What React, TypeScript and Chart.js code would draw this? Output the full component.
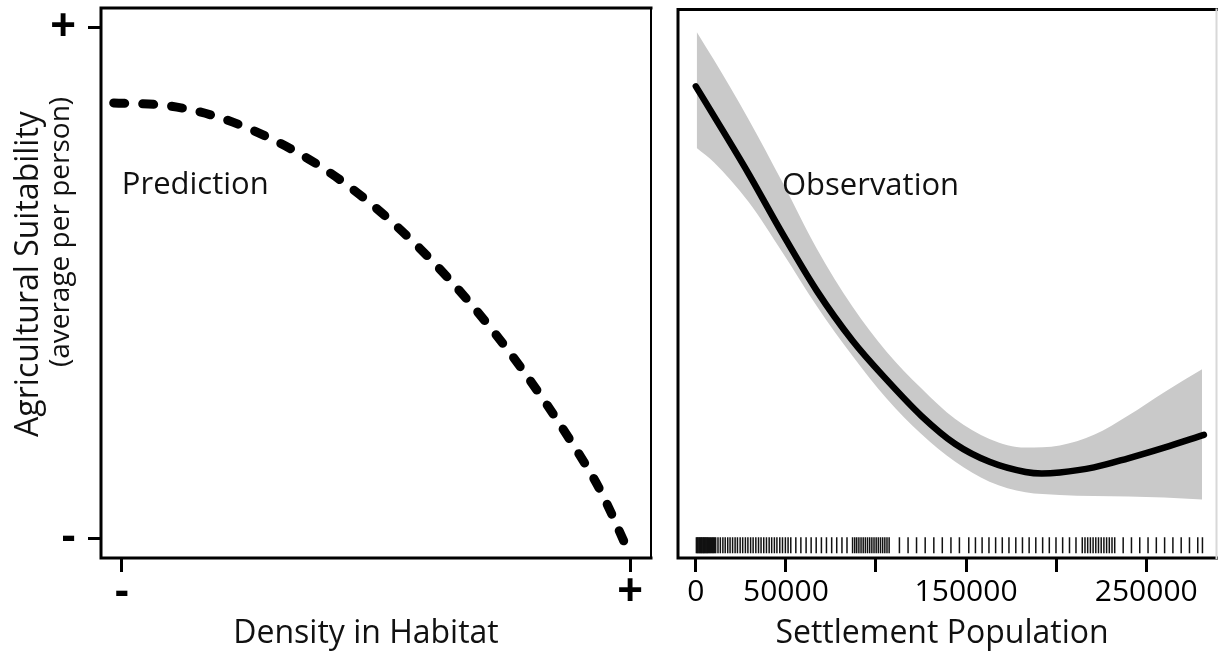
import React, { useEffect, useRef } from 'react';
import { Chart, registerables } from 'chart.js';
Chart.register(...registerables);

// ---------- Left panel: predicted relationship (normalized: 0 = "-", 1 = "+") ----------
const predictionX = [-0.016, 0.094, 0.193, 0.291, 0.39, 0.488, 0.587, 0.685, 0.783, 0.882, 0.941, 0.994];
const predictionY = [0.853, 0.847, 0.824, 0.784, 0.729, 0.657, 0.567, 0.461, 0.337, 0.192, 0.094, -0.02];
const leftTickValues = [0, 1];
const leftTickLabels = ['-', '+'];

// ---------- Right panel: observed relationship ----------
const populationX = [0, 10000, 29000, 48000, 67000, 87000, 106000, 125000, 144000, 163000, 183000, 192000, 202000, 221000, 240000, 260000, 282000];
const observedY = [0.888, 0.83, 0.718, 0.599, 0.487, 0.388, 0.311, 0.241, 0.185, 0.15, 0.13, 0.127, 0.129, 0.139, 0.157, 0.178, 0.203];
const bandX = [500, 10000, 29000, 48000, 67000, 87000, 106000, 125000, 144000, 163000, 183000, 202000, 221000, 240000, 260000, 281000];
const bandUpper = [0.995, 0.94, 0.825, 0.7, 0.57, 0.455, 0.366, 0.295, 0.234, 0.195, 0.178, 0.182, 0.203, 0.241, 0.287, 0.332];
const bandLower = [0.767, 0.739, 0.662, 0.562, 0.457, 0.358, 0.274, 0.205, 0.15, 0.111, 0.09, 0.085, 0.083, 0.082, 0.08, 0.076];
const rugPopulation = [
  300, 800, 1200, 1700, 2100, 2600, 3000, 3400, 3900, 4300, 4700, 5200, 5600, 6100, 6500, 7000, 7600, 8100, 8700, 9300, 9800, 10400, 11000,
  12300, 13600, 15000, 16300, 17700, 19000, 20400, 21800, 23100, 24600, 26000, 27500, 28900, 30400, 31800, 33300, 34800, 36200, 37700, 39200,
  40700, 42100, 43600, 45000, 46600, 48100, 49700, 51200, 52700,
  55500, 58300, 61200, 64000, 66800, 69700, 72500, 75400, 78200, 81100, 83900,
  87000, 88200, 89300, 90500, 91700, 92900, 94100, 95300, 96500, 97700, 98900, 100100, 101300, 102500, 103700, 104900, 106100, 107300,
  113000, 117800, 122500, 127300, 132100, 136800, 141600, 146300,
  151500, 155200, 158900, 162700, 166400, 170100, 173800, 177600, 181300, 185000, 188700, 192500, 196200, 199900, 203600, 207400, 211000,
  214500, 216000, 217500, 219000, 220500, 222000, 223500, 225000, 226500, 228000, 229500, 231000, 232500,
  237200, 241800, 246400, 251000, 255600, 260200, 264800, 269400, 274000, 278600, 281200,
];
const populationTicks = [0, 50000, 100000, 150000, 200000, 250000];
const populationTickLabels = ['0', '50000', '', '150000', '', '250000'];

const rugLevel = -0.0137;
const yMin = -0.039;
const yMax = 1.039;
const SANS = "'Open Sans', sans-serif";

function noScalePadding(s: any) {
  s.paddingTop = 0;
  s.paddingBottom = 0;
  s.paddingLeft = 0;
  s.paddingRight = 0;
}

function framePlugin(rightColor: string, texts: (chart: any, ctx: CanvasRenderingContext2D) => void) {
  return {
    id: 'frameAndText',
    afterDraw(chart: any) {
      const { ctx, chartArea: a } = chart;
      ctx.save();
      ctx.lineWidth = 3;
      ctx.strokeStyle = '#000';
      ctx.lineCap = 'square';
      ctx.beginPath();
      ctx.moveTo(a.right, a.top);
      ctx.lineTo(a.left, a.top);
      ctx.lineTo(a.left, a.bottom);
      ctx.lineTo(a.right, a.bottom);
      ctx.stroke();
      ctx.strokeStyle = rightColor;
      ctx.lineWidth = 2;
      ctx.beginPath();
      ctx.moveTo(a.right, a.top);
      ctx.lineTo(a.right, a.bottom);
      ctx.stroke();
      ctx.restore();
      ctx.save();
      ctx.fillStyle = '#111';
      texts(chart, ctx);
      ctx.restore();
    },
  };
}

function LeftPanel() {
  const ref = useRef<HTMLCanvasElement>(null);
  useEffect(() => {
    const chart = new Chart(ref.current as HTMLCanvasElement, {
      type: 'line',
      data: {
        datasets: [
          {
            data: predictionX.map((x, i) => ({ x, y: predictionY[i] })),
            borderColor: '#000',
            borderWidth: 9,
            borderDash: [11, 18],
            borderCapStyle: 'round',
            pointRadius: 0,
            cubicInterpolationMode: 'monotone',
            fill: false,
          } as any,
        ],
      },
      options: {
        animation: false,
        responsive: false,
        events: [],
        layout: { padding: { top: 8, right: 9, left: 0, bottom: 0 } },
        plugins: { legend: { display: false }, tooltip: { enabled: false } },
        scales: {
          x: {
            type: 'linear',
            min: -0.041,
            max: 1.041,
            afterBuildTicks: (s: any) => {
              s.ticks = leftTickValues.map((v) => ({ value: v }));
            },
            afterFit: (s: any) => {
              s.height = 93;
              noScalePadding(s);
            },
            ticks: {
              callback: (_v: any, i: number) => leftTickLabels[i],
              font: { family: "'Liberation Sans', Arial, sans-serif", weight: 'bold', size: 44, lineHeight: 1 },
              color: '#000',
              padding: -1,
              maxRotation: 0,
              autoSkip: false,
            },
            grid: { drawOnChartArea: false, drawTicks: true, tickLength: 14, lineWidth: 3, color: '#000' },
            border: { display: false },
          },
          y: {
            type: 'linear',
            min: yMin,
            max: yMax,
            afterBuildTicks: (s: any) => {
              s.ticks = leftTickValues.map((v) => ({ value: v }));
            },
            afterFit: (s: any) => {
              s.width = 101;
              noScalePadding(s);
            },
            ticks: {
              callback: (_v: any, i: number) => leftTickLabels[i],
              font: { family: "'Liberation Sans', Arial, sans-serif", weight: 'bold', size: 44, lineHeight: 1 },
              color: '#000',
              padding: 12,
              autoSkip: false,
            },
            grid: { drawOnChartArea: false, drawTicks: true, tickLength: 13, lineWidth: 3, color: '#000' },
            border: { display: false },
          },
        },
      } as any,
      plugins: [
        framePlugin('#000', (chart: any, ctx: CanvasRenderingContext2D) => {
          const xs = chart.scales.x;
          const ys = chart.scales.y;
          ctx.font = `31px ${SANS}`;
          ctx.textAlign = 'left';
          ctx.textBaseline = 'middle';
          ctx.fillText('Prediction', xs.getPixelForValue(0.0), ys.getPixelForValue(0.692));
          ctx.font = `32px ${SANS}`;
          ctx.textAlign = 'center';
          ctx.textBaseline = 'alphabetic';
          ctx.fillText('Density in Habitat', 366, 643);
          ctx.save();
          ctx.translate(38, 274);
          ctx.rotate(-Math.PI / 2);
          ctx.font = `32px ${SANS}`;
          ctx.fillText('Agricultural Suitability', 0, 0);
          ctx.restore();
          ctx.save();
          ctx.translate(69, 232);
          ctx.rotate(-Math.PI / 2);
          ctx.font = `28px ${SANS}`;
          ctx.fillText('(average per person)', 0, 0);
          ctx.restore();
        }),
      ],
    });
    return () => chart.destroy();
  }, []);
  return <canvas ref={ref} width={660} height={651} style={{ position: 'absolute', left: 0, top: 0, width: 660, height: 651 }} />;
}

function RightPanel() {
  const ref = useRef<HTMLCanvasElement>(null);
  useEffect(() => {
    const chart = new Chart(ref.current as HTMLCanvasElement, {
      type: 'line',
      data: {
        datasets: [
          {
            data: populationX.map((x, i) => ({ x, y: observedY[i] })),
            borderColor: '#000',
            borderWidth: 6.5,
            borderCapStyle: 'round',
            pointRadius: 0,
            cubicInterpolationMode: 'monotone',
            fill: false,
          },
          {
            data: bandX.map((x, i) => ({ x, y: bandUpper[i] })),
            borderColor: 'rgba(0,0,0,0)',
            borderWidth: 0,
            backgroundColor: '#c9c9c9',
            pointRadius: 0,
            cubicInterpolationMode: 'monotone',
            fill: '+1',
          },
          {
            data: bandX.map((x, i) => ({ x, y: bandLower[i] })),
            borderColor: 'rgba(0,0,0,0)',
            borderWidth: 0,
            pointRadius: 0,
            cubicInterpolationMode: 'monotone',
            fill: false,
          },
          {
            type: 'scatter',
            data: rugPopulation.map((x) => ({ x, y: rugLevel })),
            showLine: false,
            pointStyle: 'line',
            pointRotation: 90,
            pointRadius: 8,
            pointBorderWidth: 1.5,
            pointBorderColor: '#111',
            borderColor: '#111',
          },
        ] as any,
      },
      options: {
        animation: false,
        responsive: false,
        events: [],
        layout: { padding: { top: 8, right: 4, left: 18, bottom: 0 } },
        plugins: { legend: { display: false }, tooltip: { enabled: false } },
        scales: {
          x: {
            type: 'linear',
            min: -9900,
            max: 289000,
            afterBuildTicks: (s: any) => {
              s.ticks = populationTicks.map((v) => ({ value: v }));
            },
            afterFit: (s: any) => {
              s.height = 93;
              noScalePadding(s);
            },
            ticks: {
              callback: (_v: any, i: number) => populationTickLabels[i],
              font: { family: SANS, size: 30, lineHeight: 1 },
              color: '#000',
              padding: 5,
              maxRotation: 0,
              autoSkip: false,
            },
            grid: { drawOnChartArea: false, drawTicks: true, tickLength: 14, lineWidth: 3, color: '#000' },
            border: { display: false },
          },
          y: { type: 'linear', display: false, min: yMin, max: yMax },
        },
      } as any,
      plugins: [
        framePlugin('#d8d8d8', (chart: any, ctx: CanvasRenderingContext2D) => {
          const xs = chart.scales.x;
          const ys = chart.scales.y;
          ctx.font = `31px ${SANS}`;
          ctx.textAlign = 'left';
          ctx.textBaseline = 'middle';
          ctx.fillText('Observation', xs.getPixelForValue(47800), ys.getPixelForValue(0.692));
          ctx.font = `32px ${SANS}`;
          ctx.textAlign = 'center';
          ctx.textBaseline = 'alphabetic';
          ctx.fillText('Settlement Population', 282, 643);
        }),
      ],
    });
    return () => chart.destroy();
  }, []);
  return <canvas ref={ref} width={566} height={651} style={{ position: 'absolute', left: 660, top: 0, width: 566, height: 651 }} />;
}

export default function App() {
  return (
    <div style={{ position: 'fixed', left: 0, top: 0, width: 1226, height: 651, background: '#fff', overflow: 'hidden' }}>
      <LeftPanel />
      <RightPanel />
    </div>
  );
}
